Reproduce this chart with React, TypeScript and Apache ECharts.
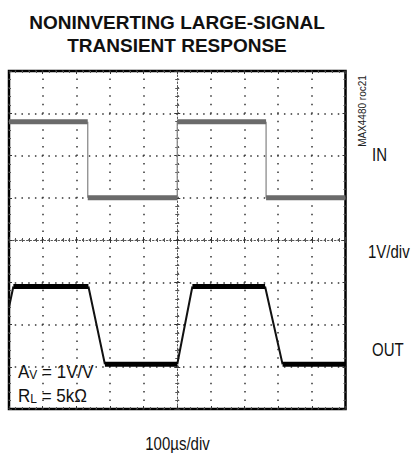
import React, { useEffect, useRef } from "react";
import * as echarts from "echarts";

// Time axis: 100 µs per division, 10 divisions
const timeTicks = [0, 100, 200, 300, 400, 500, 600, 700, 800, 900, 1000];
// Voltage axis: 1 V per division, 8 divisions
const voltTicks = [-4, -3, -2, -1, 0, 1, 2, 3, 4];

// IN trace (µs, V)
const inTimes = [0, 234, 234, 500, 500, 764, 764, 1000];
const inLevels = [2.8, 2.8, 1.0, 1.0, 2.8, 2.8, 1.0, 1.0];

// OUT trace (µs, V)
const outTimes = [0, 13, 236, 285, 500, 545, 761, 813, 1000];
const outLevels = [-1.59, -1.1, -1.1, -2.94, -2.94, -1.1, -1.1, -2.94, -2.94];

const FONT = "'Liberation Sans', Arial, Helvetica, sans-serif";

function segments(times: number[], levels: number[], pairs: number[][]) {
  const out: any[] = [];
  pairs.forEach(([a, b], k) => {
    out.push([times[a], levels[a]]);
    out.push([times[b], levels[b]]);
    if (k < pairs.length - 1) out.push([(times[b] + times[pairs[k + 1][0]]) / 2, "-"]);
  });
  return out;
}

export default function App() {
  const ref = useRef<HTMLDivElement>(null);
  useEffect(() => {
    if (!ref.current) return;
    const chart = echarts.init(ref.current, null, { renderer: "svg" });
    const xmin = timeTicks[0];
    const xmax = timeTicks[timeTicks.length - 1];
    const ymin = voltTicks[0];
    const ymax = voltTicks[voltTicks.length - 1];
    const gridH = 338;
    const gridW = 336.5;

    const baseX = (extra: any) => ({
      type: "value",
      min: xmin,
      max: xmax,
      interval: 100,
      axisLabel: { show: false },
      axisLine: { show: false, onZero: false },
      axisTick: { show: true, inside: true, length: 3, lineStyle: { color: "#333", width: 1 } },
      minorTick: { show: true, splitNumber: 5, length: 2, lineStyle: { color: "#555", width: 1 } },
      splitLine: { show: false },
      ...extra,
    });
    const baseY = (extra: any) => ({
      type: "value",
      min: ymin,
      max: ymax,
      interval: 1,
      axisLabel: { show: false },
      axisLine: { show: false, onZero: false },
      axisTick: { show: true, inside: true, length: 3, lineStyle: { color: "#333", width: 1 } },
      minorTick: { show: true, splitNumber: 5, length: 2, lineStyle: { color: "#555", width: 1 } },
      splitLine: { show: false },
      ...extra,
    });

    const inFlat = segments(inTimes, inLevels, [[0, 1], [2, 3], [4, 5], [6, 7]]);
    const inEdges = segments(inTimes, inLevels, [[1, 2], [3, 4], [5, 6]]);
    const outFlat = segments(outTimes, outLevels, [[1, 2], [3, 4], [5, 6], [7, 8]]);
    const outEdges = segments(outTimes, outLevels, [[0, 1], [2, 3], [4, 5], [6, 7]]);

    const lineSeries = (name: string, data: any[], color: string, width: number) => ({
      name,
      type: "line",
      xAxisIndex: 0,
      yAxisIndex: 0,
      data,
      symbol: "none",
      connectNulls: false,
      silent: true,
      z: 5,
      lineStyle: { color, width, cap: "butt", join: "miter" },
    });

    const label = (text: string, x: number, y: number, align: string) => ({
      type: "text",
      x,
      y,
      scaleY: 1.2,
      style: { text, fontSize: 15, fontFamily: FONT, fill: "#111", align, verticalAlign: "middle" },
    });
    const richAnno = (text: string, y: number) => ({
      type: "text",
      x: 18,
      y,
      scaleY: 1.12,
      style: {
        text,
        fontFamily: FONT,
        align: "left",
        verticalAlign: "middle",
        rich: {
          a: { fontSize: 17, fontFamily: FONT, fill: "#111", lineHeight: 20, verticalAlign: "bottom" },
          s: { fontSize: 12, fontFamily: FONT, fill: "#111", lineHeight: 8, verticalAlign: "bottom" },
        },
      },
    });

    chart.setOption({
      animation: false,
      title: {
        text: "NONINVERTING LARGE-SIGNAL\nTRANSIENT RESPONSE",
        left: 177,
        top: 11,
        padding: 0,
        textAlign: "center",
        textStyle: { fontSize: 19, fontWeight: "bold", fontFamily: FONT, color: "#111", lineHeight: 23 },
      },
      grid: {
        left: 9,
        top: 71,
        width: gridW,
        height: gridH,
        show: true,
        borderColor: "#000",
        borderWidth: 2.5,
        backgroundColor: "transparent",
      },
      xAxis: [
        baseX({
          position: "bottom",
          splitLine: {
            show: true,
            lineStyle: { color: "#333", width: 1.5, type: [1.5, gridH / 40 - 1.5], dashOffset: 0.75 },
          },
        }),
        baseX({ position: "top" }),
        baseX({
          position: "bottom",
          offset: -gridH / 2,
          axisLine: { show: true, onZero: false, lineStyle: { color: "#555", width: 1, type: [1.5, 2] } },
        }),
        baseX({ position: "top", offset: -gridH / 2 }),
      ],
      yAxis: [
        baseY({
          position: "left",
          splitLine: {
            show: true,
            lineStyle: { color: "#333", width: 1.5, type: [1.5, gridW / 50 - 1.5], dashOffset: 0.75 },
          },
        }),
        baseY({ position: "right" }),
        baseY({
          position: "left",
          offset: -gridW / 2,
          axisLine: { show: true, onZero: false, lineStyle: { color: "#555", width: 1, type: [1.5, 2] } },
        }),
        baseY({ position: "right", offset: -gridW / 2 }),
      ],
      series: [
        lineSeries("IN edges", inEdges, "#8c8c8c", 1.3),
        lineSeries("IN", inFlat, "#6b6b6b", 5),
        lineSeries("OUT edges", outEdges, "#111", 2),
        lineSeries("OUT", outFlat, "#000", 5),
      ],
      graphic: [
        {
          type: "text",
          x: 362.5,
          y: 111,
          rotation: Math.PI / 2,
          style: { text: "MAX4480 roc21", fontSize: 10, fontFamily: FONT, fill: "#222", align: "center", verticalAlign: "middle" },
        },
        label("IN", 372, 155, "left"),
        label("1V/div", 368, 252, "left"),
        label("OUT", 372, 350, "left"),
        label("100µs/div", 177.5, 444, "center"),
        richAnno("{a|A}{s|V}{a| = 1V/V}", 370),
        richAnno("{a|R}{s|L}{a| = 5kΩ}", 394),
      ],
    });
    return () => chart.dispose();
  }, []);
  return (
    <div
      ref={ref}
      style={{ position: "absolute", left: 0, top: 0, width: 411, height: 453, background: "#fff" }}
    />
  );
}
